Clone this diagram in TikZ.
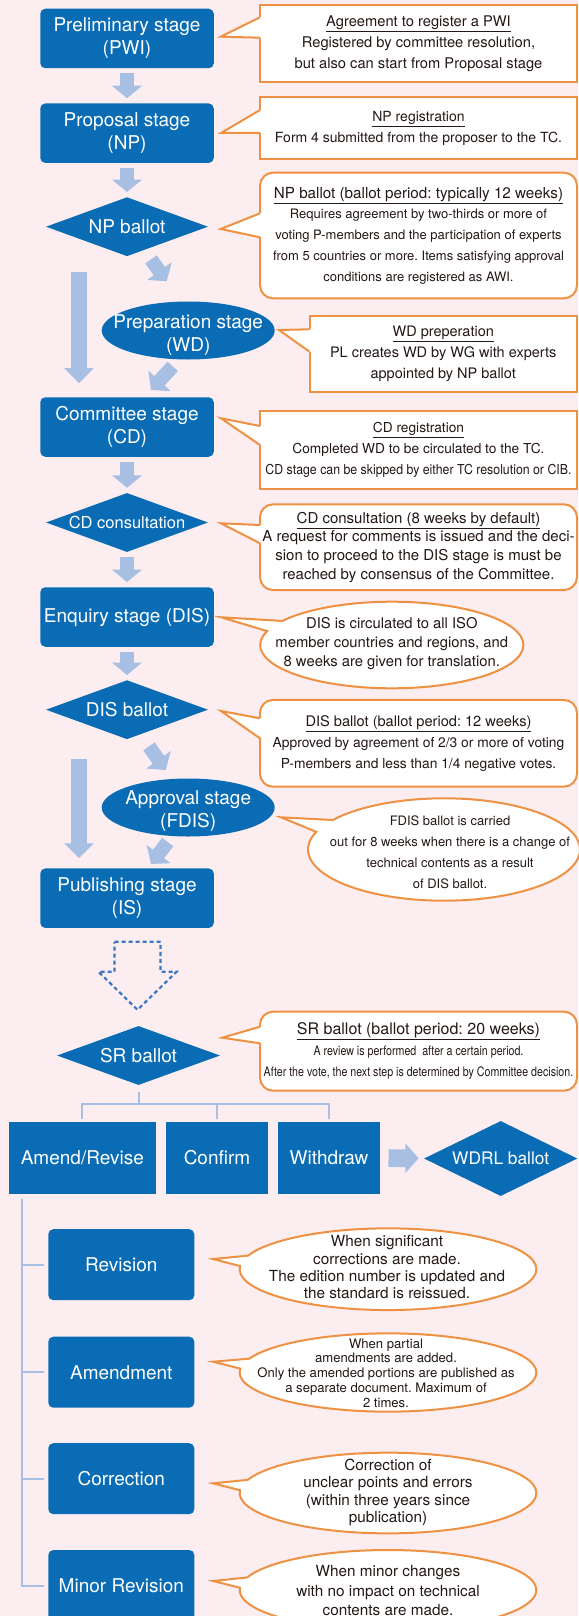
\documentclass[tikz,border=0pt]{standalone}
\usepackage{fontspec}
\usepackage{graphicx}
\setmainfont{TeX Gyre Heros}
\frenchspacing
\usetikzlibrary{arrows.meta,shapes.geometric,shapes.callouts,calc}

\definecolor{stageblue}{HTML}{0A6CB4}
\definecolor{flowblue}{HTML}{A6BFE3}
\definecolor{pagepink}{HTML}{FCEDF0}
\definecolor{noteorange}{HTML}{EF9142}
\definecolor{dashblue}{HTML}{3B77C5}
\definecolor{inkgray}{HTML}{231815}

\tikzset{
  stage/.style={rectangle, rounded corners=5pt, fill=stageblue, text=white, align=center,
    minimum width=173.5pt, minimum height=59.5pt, inner sep=0pt, font=\fontsize{19}{23}\selectfont},
  stageoval/.style={ellipse, fill=stageblue, minimum width=173pt, minimum height=58pt, inner sep=0pt},
  stagetext/.style={text=white, align=center, inner sep=0pt, font=\fontsize{19}{23}\selectfont},
  ballot/.style={diamond, fill=stageblue, text=white, aspect=2.75, inner sep=0pt,
    minimum width=162pt, minimum height=59pt, font=\fontsize{19}{23}\selectfont},
  result/.style={rectangle, fill=stageblue, text=white, minimum height=72.6pt, inner sep=0pt,
    font=\fontsize{19}{23}\selectfont},
  action/.style={stage, minimum width=146pt, minimum height=71pt},
  note/.style={rectangle, draw=noteorange, fill=white, line width=2pt, outer sep=0pt, inner sep=0pt,
    text=inkgray, align=center, minimum width=317pt},
  roundnote/.style={note, rounded corners=13pt},
  ovalnote/.style={ellipse callout, draw=noteorange, fill=white, line width=2pt, inner sep=0pt, outer sep=0pt},
  notetext/.style={text=inkgray, align=center, inner sep=0pt},
  noteedge/.style={draw=noteorange, line width=2pt, line join=miter},
  flow/.style={draw=flowblue, line width=14pt, -{Triangle[width=29.5pt,length=12.5pt]},
    shorten <=5pt, shorten >=5pt},
  tilt/.style={flow, shorten <=0pt, shorten >=0pt},
  skipflow/.style={flow, line width=16.6pt, -{Triangle[width=28.7pt,length=15pt]}},
  branch/.style={draw=flowblue, line width=2pt},
  dashedarrow/.style={draw=dashblue, line width=2.2pt, dash pattern=on 4pt off 3pt, line join=miter}
}

% pointer of a boxed note: node, upper y, lower y, tip
\newcommand{\notetip}[4]{%
  \fill[white] (#1.west |- 0,#2) -- (#4) -- (#1.west |- 0,#3) -- cycle;
  \draw[white, line width=3pt] (#1.west |- 0,#2) -- (#1.west |- 0,#3);
  \draw[noteedge] (#1.west |- 0,#2) -- (#4) -- (#1.west |- 0,#3);}
% underlined heading of a note
\newcommand{\notehead}[2]{{\fontsize{#1}{20}\selectfont\underline{#2}}}

\begin{document}
\begin{tikzpicture}[x=1pt,y=-1pt]
  \useasboundingbox (0,0) rectangle (578,1616);
  \fill[pagepink] (0,0) rectangle (578,1616);

  % stages
  \node[stage] (prelim) at (127,38.5) {Preliminary stage\\(PWI)};
  \node[stage] (prop) at (127,133.2) {Proposal stage\\(NP)};
  \node[ballot] (npb) at (127,226.7) {NP ballot};
  \node[stageoval] (prep) at (188.2,330.5) {};
  \node[stagetext] (preptext) at (188.2,335) {Preparation stage\\(WD)};
  \node[stage] (comm) at (127,427) {Committee stage\\(CD)};
  \node[ballot, font=\fontsize{16.5}{20}\selectfont] (cdc) at (127,522.5) {CD consultation};
  \node[stage] (enq) at (127,617) {Enquiry stage (DIS)};
  \node[ballot] (disb) at (127,709.7) {DIS ballot};
  \node[stageoval] (appr) at (188.2,807.5) {};
  \node[stagetext] (apprtext) at (188.2,811) {Approval stage\\(FDIS)};
  \node[stage] (pub) at (127,898.2) {Publishing stage\\(IS)};
  \node[ballot, minimum width=163pt] (srb) at (138.5,1055.5) {SR ballot};

  % review results
  \node[result, minimum width=146.7pt] (amend) at (82.35,1158) {Amend/Revise};
  \node[result, minimum width=102pt] (confirm) at (217,1158) {Confirm};
  \node[result, minimum width=102pt] (withdraw) at (329,1158) {Withdraw};
  \node[ballot, minimum width=153.3pt, minimum height=75pt, font=\fontsize{17.3}{21}\selectfont] (wdrl) at (500.7,1158.5) {WDRL ballot};
  \node[action] (rev) at (121.3,1264.7) {Revision};
  \node[action] (amd) at (121.3,1372.2) {Amendment};
  \node[action] (cor) at (121.3,1478.7) {Correction};
  \node[action] (minor) at (121.3,1585.5) {Minor Revision};

  % flow arrows
  \draw[flow] (prelim) -- (prop);
  \draw[flow] (prop) -- (npb);
  \draw[flow] (comm) -- (cdc);
  \draw[flow] (cdc) -- (enq);
  \draw[flow] (enq) -- (disb);
  \draw[tilt] ([xshift=24pt,yshift=-3pt]npb.south) -- ([xshift=-21.5pt,yshift=20pt]prep.north);
  \draw[tilt] ([xshift=-15.5pt,yshift=-6.7pt]prep.south) -- ([xshift=24pt,yshift=7pt]comm.north);
  \draw[tilt] ([xshift=22pt,yshift=-7pt]disb.south) -- ([xshift=-22.5pt,yshift=8.3pt]appr.north);
  \draw[tilt] ([xshift=-20.5pt,yshift=-5.3pt]appr.south) -- ([xshift=24pt,yshift=4.3pt]pub.north);
  \draw[skipflow, shorten <=15.5pt, shorten >=13.9pt] ([xshift=-48pt]npb.south) -- ([xshift=-48pt]comm.north);
  \draw[skipflow, shorten <=19.8pt, shorten >=10pt] ([xshift=-48pt]disb.south) -- ([xshift=-48pt]pub.north);
  \draw[flow, line width=17.6pt, -{Triangle[width=29pt,length=13.3pt]}, shorten <=8.3pt, shorten >=5.7pt] (withdraw) -- (wdrl);

  % periodic review
  \begin{scope}[shift={(srb.north)}]
    \draw[dashedarrow] (-24,-84) -- (22,-84) -- (22,-54) -- (38,-54) -- (-1,-16) -- (-40,-54) -- (-24,-54) -- cycle;
  \end{scope}

  \coordinate (fork) at (srb.south |- 0,1104);
  \draw[branch] ([yshift=-6.7pt]srb.south) -- (fork);
  \draw[branch] (fork) -| ([yshift=2.4pt]amend.north);
  \draw[branch] (fork) -| ([yshift=2.4pt]withdraw.north);
  \draw[branch] (confirm.north |- fork) -- ([yshift=2.4pt]confirm.north);
  \coordinate (spine) at ([xshift=-60.6pt,yshift=-4pt]amend.south);
  \draw[branch] (spine) |- ([xshift=-4pt]minor.west);
  \foreach \sub in {rev,amd,cor}
    \draw[branch] (spine |- \sub.west) -- ([xshift=-4pt]\sub.west);

  % notes
  \node[note, minimum height=77.3pt, font=\fontsize{14.7}{21}\selectfont] (agree) at (418.5,43.65)
    {\underline{Agreement to register a PWI}\\Registered by committee resolution,\\but also can start from Proposal stage};
  \notetip{agree}{17.3}{37.7}{220.7,36.7}

  \node[note, minimum height=61.7pt, font=\fontsize{14}{21}\selectfont] (npreg) at (418.5,128.2)
    {\underline{NP registration}\\Form 4 submitted from the proposer to the TC.};
  \notetip{npreg}{110}{133}{221,133}

  \node[roundnote, minimum height=125.6pt, font=\fontsize{13}{20.7}\selectfont] (npnote) at (418.5,235.5)
    {\notehead{15.2}{NP ballot (ballot period: typically 12 weeks)}\\Requires agreement by two-thirds or more of\\voting P-members and the participation of experts\\from 5 countries or more. Items satisfying approval\\conditions are registered as AWI.};
  \notetip{npnote}{213.3}{237.3}{220.7,229}

  \node[note, minimum width=267.5pt, minimum height=75.7pt, font=\fontsize{14.5}{20.8}\selectfont] (wdnote) at (443.25,353.85)
    {\underline{WD preperation}\\PL creates WD by WG with experts\\appointed by NP ballot};
  \notetip{wdnote}{329.3}{351.7}{279,330}

  \node[note, minimum height=78.6pt, font=\fontsize{13.7}{21}\selectfont] (cdreg) at (418.5,450)
    {\underline{CD registration}\\Completed WD to be circulated to the TC.\\\scalebox{0.9}[1]{CD stage can be skipped by either TC resolution or CIB.}};
  \notetip{cdreg}{426}{445}{221,418.3}

  \node[roundnote, minimum height=85.7pt, font=\fontsize{15}{18.7}\selectfont] (cdnote) at (418.5,547.2)
    {\underline{CD consultation (8 weeks by default)}\\A request for comments is issued and the deci-\\sion to proceed to the DIS stage is must be\\reached by consensus of the Committee.};
  \notetip{cdnote}{525}{543.3}{221,523.3}

  \node[ovalnote, minimum width=263.2pt, minimum height=86.6pt, callout absolute pointer={(221.2,617.3)}] (disnote) at (391.8,645) {};
  \node[notetext, font=\fontsize{14.8}{19}\selectfont] (distext) at (391.8,644)
    {DIS is circulated to all ISO\\member countries and regions, and\\8 weeks are given for translation.};

  \node[roundnote, minimum height=86.7pt, font=\fontsize{13.8}{20.8}\selectfont] (disbnote) at (418.5,743.3)
    {\notehead{14.6}{DIS ballot (ballot period: 12 weeks)}\\Approved by agreement of 2/3 or more of voting\\P-members and less than 1/4 negative votes.};
  \notetip{disbnote}{718.3}{738.3}{221,711}

  \node[ovalnote, minimum width=272pt, minimum height=102.4pt, callout absolute pointer={(280.9,817.3)}] (fdisnote) at (444,849.5) {};
  \node[notetext, font=\fontsize{13}{21}\selectfont] (fdistext) at (450,852)
    {FDIS ballot is carried\\out for 8 weeks when there is a change of\\technical contents as a result\\of DIS ballot.};

  \node[roundnote, minimum height=79pt, font=\fontsize{13}{21}\selectfont] (srnote) at (418.5,1051.2)
    {\notehead{16}{SR ballot (ballot period: 20 weeks)}\\\scalebox{0.82}[1]{A review is performed \ after a certain period.}\\\scalebox{0.82}[1]{After the vote, the next step is determined by Committee decision.}};
  \notetip{srnote}{1026.7}{1043.3}{222.3,1037.7}

  \node[ovalnote, minimum width=296.7pt, minimum height=81.7pt, callout absolute pointer={(213,1259)}] (revnote) at (388,1269.2) {};
  \node[notetext, font=\fontsize{15.3}{17.4}\selectfont] (revtext) at (387,1267.2)
    {When significant\\corrections are made.\\The edition number is updated and\\the standard is reissued.};

  \node[ovalnote, minimum width=296.7pt, minimum height=78.3pt, callout absolute pointer={(213,1361.7)}] (amdnote) at (388,1372.5) {};
  \node[notetext, font=\fontsize{13.1}{14.8}\selectfont] (amdtext) at (386,1373)
    {When partial\\amendments are added.\\Only the amended portions are published as\\a separate document. Maximum of\\2 times.};

  \node[ovalnote, minimum width=296.7pt, minimum height=80.7pt, callout absolute pointer={(213,1483.3)}] (cornote) at (388,1493) {};
  \node[notetext, font=\fontsize{15.3}{17.4}\selectfont] (cortext) at (388,1492.4)
    {Correction of\\unclear points and errors\\(within three years since\\publication)};

  \node[ovalnote, minimum width=296.7pt, minimum height=80pt, callout absolute pointer={(213,1581)}] (minnote) at (388,1590) {};
  \node[notetext, font=\fontsize{15.3}{19.5}\selectfont] (mintext) at (388,1590.7)
    {When minor changes\\with no impact on technical\\contents are made.};
\end{tikzpicture}
\end{document}
